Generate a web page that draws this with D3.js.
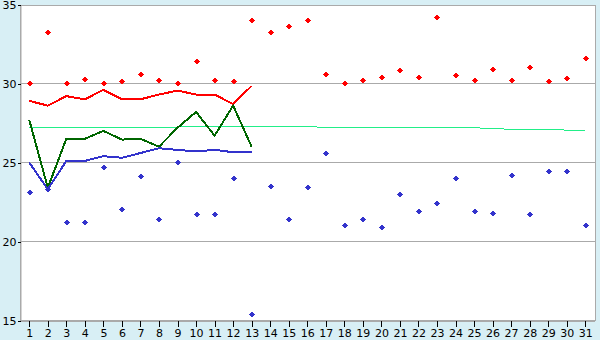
<!DOCTYPE html>
<html>
<head>
<meta charset="utf-8">
<script src="https://cdn.jsdelivr.net/npm/d3@7"></script>
<style>
  html, body { margin: 0; padding: 0; background: #d8eff5; }
  svg { display: block; }
  .axis text { font-family: "DejaVu Sans", Verdana, sans-serif; font-size: 11px; fill: #000; }
</style>
</head>
<body>
<div id="chart"></div>
<script>
const WIDTH = 600;
const HEIGHT = 340;

const days = [1, 2, 3, 4, 5, 6, 7, 8, 9, 10, 11, 12, 13, 14, 15, 16, 17, 18, 19, 20,
    21, 22, 23, 24, 25, 26, 27, 28, 29, 30, 31];
const yTicks = [15, 20, 25, 30, 35];

// daily maxima / minima (markers)
const maxPoints = [30.0, 33.2, 30.0, 30.25, 30.0, 30.1, 30.6, 30.2, 30.0, 31.4,
    30.2, 30.1, 34.0, 33.2, 33.6, 34.0, 30.6, 30.0, 30.2, 30.4,
    30.8, 30.4, 34.2, 30.5, 30.2, 30.9, 30.2, 31.0, 30.1, 30.3, 31.6];
const minPoints = [23.1, 23.3, 21.2, 21.2, 24.7, 22.0, 24.1, 21.4, 25.0, 21.7,
    21.7, 24.0, 15.4, 23.5, 21.4, 23.4, 25.6, 21.0, 21.4, 20.9,
    23.0, 21.9, 22.4, 24.0, 21.9, 21.8, 24.2, 21.7, 24.4, 24.4, 21.0];

// lines (first 13 days only)
const redLine = [28.9, 28.6, 29.2, 29.0, 29.6, 29.0, 29.0, 29.3, 29.55, 29.3, 29.3, 28.7, 29.85];
const greenLine = [27.7, 23.4, 26.5, 26.5, 27.0, 26.45, 26.5, 26.0, 27.2, 28.2, 26.7, 28.6, 26.0];
const blueLine = [25.0, 23.3, 25.1, 25.1, 25.4, 25.3, 25.6, 25.9, 25.8, 25.7, 25.8, 25.65, 25.65];

// long term average (whole month)
const avgLine = [27.24, 27.24, 27.24, 27.24, 27.24, 27.24, 27.24, 27.24, 27.24, 27.3,
    27.3, 27.3, 27.3, 27.3, 27.3, 27.3, 27.2, 27.2, 27.2, 27.2,
    27.2, 27.2, 27.2, 27.2, 27.2, 27.15, 27.1, 27.1, 27.1, 27.05, 27.0];

const svg = d3.select("#chart")
    .append("svg")
    .attr("width", WIDTH)
    .attr("height", HEIGHT);

const x = d3.scalePoint()
    .domain(days)
    .range([20, 594.5])
    .padding(0.5);

const y = d3.scaleLinear()
    .domain([15, 35])
    .range([320.5, 4.5]);

// snap to pixel centres, the original is drawn without antialiasing
const px = v => Math.floor(v) + 0.5;

// plot background
svg.append("rect")
    .attr("x", 20.5)
    .attr("y", 5.5)
    .attr("width", 575)
    .attr("height", 315)
    .attr("fill", "#fff")
    .attr("stroke", "#aaa")
    .attr("stroke-width", 1)
    .attr("shape-rendering", "crispEdges");

// horizontal grid
svg.append("g")
    .selectAll("line")
    .data([20, 25, 30])
    .join("line")
    .attr("x1", 20.5)
    .attr("x2", 595.5)
    .attr("y1", d => px(y(d)))
    .attr("y2", d => px(y(d)))
    .attr("stroke", "#aaa")
    .attr("shape-rendering", "crispEdges");

// axes
const yAxis = d3.axisLeft(y).tickValues(yTicks).tickSize(3).tickPadding(1).tickSizeOuter(0);
const xAxis = d3.axisBottom(x).tickSize(6).tickPadding(3).tickSizeOuter(0);

const gy = svg.append("g")
    .attr("class", "axis")
    .attr("transform", "translate(20.5, 0)")
    .call(yAxis);
gy.select(".domain").attr("stroke", "#aaa");
gy.selectAll(".tick line").attr("stroke", "#000").attr("shape-rendering", "crispEdges");

const gx = svg.append("g")
    .attr("class", "axis")
    .attr("transform", "translate(0, 320.5)")
    .call(xAxis);
gx.select(".domain").attr("stroke", "#aaa").attr("shape-rendering", "crispEdges");
gx.selectAll(".tick line").attr("stroke", "#000").attr("shape-rendering", "crispEdges");

// lines
const line = d3.line()
    .x((d, i) => x(days[i]))
    .y(d => y(d));

const series = [
    { values: avgLine, color: "#22ee88", width: 1 },
    { values: redLine, color: "#ff0000", width: 2 },
    { values: greenLine, color: "#006600", width: 2 },
    { values: blueLine, color: "#3333cc", width: 2 }
];

svg.append("g")
    .selectAll("path")
    .data(series)
    .join("path")
    .attr("d", d => line(d.values))
    .attr("fill", "none")
    .attr("stroke", d => d.color)
    .attr("stroke-width", d => d.width)
    .attr("shape-rendering", "crispEdges");

// markers: small 5px diamonds
const diamond = "M0,-3L3,0L0,3L-3,0Z";

const drawMarkers = (values, color) => {
    svg.append("g")
        .selectAll("path")
        .data(values)
        .join("path")
        .attr("transform", (d, i) => `translate(${px(x(days[i]))}, ${px(y(d))})`)
        .attr("d", diamond)
        .attr("fill", color)
        .attr("shape-rendering", "crispEdges");
};

drawMarkers(maxPoints, "#ff0000");
drawMarkers(minPoints, "#3333cc");
</script>
</body>
</html>
